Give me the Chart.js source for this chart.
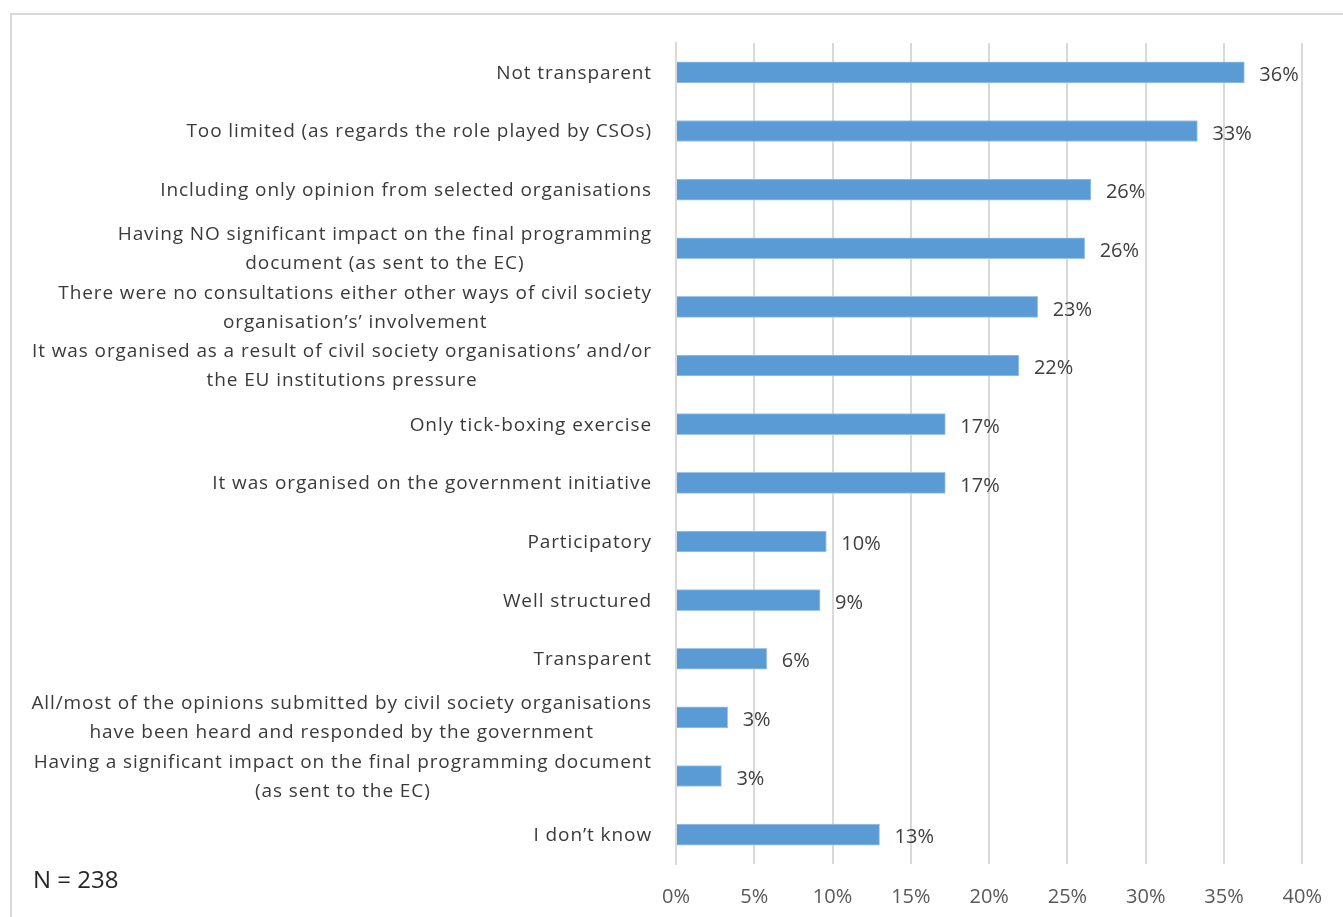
<!DOCTYPE html>
<html>
<head>
<meta charset="utf-8">
<script src="https://cdn.jsdelivr.net/npm/chart.js@4"></script>
<style>
    body { margin: 0; background: #ffffff; overflow: hidden; }
    #frame {
        position: absolute; left: 10px; top: 13px; width: 1400px; height: 1000px;
        border: 2px solid #d9d9d9; box-sizing: border-box;
    }
    #wrap { position: absolute; left: 0; top: 0; width: 1343px; height: 917px; }
    #note {
        position: absolute; left: 33px; top: 862px;
        font-family: "Open Sans", sans-serif; font-size: 24px; color: #262626;
    }
</style>
</head>
<body>
<div id="frame"></div>
<div id="wrap"><canvas id="chart"></canvas></div>
<div id="note">N = 238</div>
<script>
const categories = [
    ["Not transparent"],
    ["Too limited (as regards the role played by CSOs)"],
    ["Including only opinion from selected organisations"],
    ["Having NO significant impact on the final programming", "document (as sent to the EC)"],
    ["There were no consultations either other ways of civil society", "organisation\u2019s\u2019 involvement"],
    ["It was organised as a result of civil society organisations\u2019 and/or", "the EU institutions pressure"],
    ["Only tick-boxing exercise"],
    ["It was organised on the government initiative"],
    ["Participatory"],
    ["Well structured"],
    ["Transparent"],
    ["All/most of the opinions submitted by civil society organisations", "have been heard and responded by the government"],
    ["Having a significant impact on the final programming document", "(as sent to the EC)"],
    ["I don\u2019t know"]
];
const shares = [36.3, 33.3, 26.5, 26.1, 23.1, 21.9, 17.2, 17.2, 9.6, 9.2, 5.8, 3.3, 2.9, 13.0];
const shareLabels = ["36%", "33%", "26%", "26%", "23%", "22%", "17%", "17%", "10%", "9%", "6%", "3%", "3%", "13%"];
const xTicks = [0, 5, 10, 15, 20, 25, 30, 35, 40];

// Category labels: each block right-aligned, lines centred within the block
const categoryLabels = {
    id: 'categoryLabels',
    afterDraw(chart) {
        const ctx = chart.ctx;
        const yScale = chart.scales.y;
        const right = chart.chartArea.left - 24;
        ctx.save();
        ctx.font = '19px "Open Sans", sans-serif';
        ctx.letterSpacing = '0.9px';
        ctx.fillStyle = '#3a3a3a';
        ctx.textAlign = 'center';
        ctx.textBaseline = 'middle';
        categories.forEach((lines, i) => {
            const widest = Math.max(...lines.map(l => ctx.measureText(l).width));
            const cx = right - widest / 2;
            const cy = yScale.getPixelForValue(i) + 1;
            const lineHeight = 29;
            lines.forEach((line, j) => {
                ctx.fillText(line, cx, cy + (j - (lines.length - 1) / 2) * lineHeight);
            });
        });
        ctx.restore();
    }
};

// Value labels next to the end of each bar
const valueLabels = {
    id: 'valueLabels',
    afterDatasetsDraw(chart) {
        const ctx = chart.ctx;
        const meta = chart.getDatasetMeta(0);
        ctx.save();
        ctx.font = '20px "Open Sans", sans-serif';
        ctx.fillStyle = '#404040';
        ctx.textAlign = 'left';
        ctx.textBaseline = 'middle';
        meta.data.forEach((bar, i) => {
            ctx.fillText(shareLabels[i], bar.x + 15, bar.y + 3);
        });
        ctx.restore();
    }
};

new Chart(document.getElementById('chart'), {
    type: 'bar',
    data: {
        labels: categories.map(c => c.join(' ')),
        datasets: [{
            data: shares,
            backgroundColor: '#5b9bd5',
            borderColor: '#9dc3e6',
            borderWidth: 1,
            barThickness: 21
        }]
    },
    options: {
        indexAxis: 'y',
        responsive: true,
        maintainAspectRatio: false,
        animation: false,
        layout: { padding: { top: 43, right: 16, bottom: 0, left: 0 } },
        plugins: { legend: { display: false }, tooltip: { enabled: false } },
        scales: {
            x: {
                min: 0,
                max: 40,
                afterBuildTicks(scale) {
                    scale.ticks = xTicks.map(v => ({ value: v }));
                },
                afterFit(scale) { scale.height = 53; },
                grid: { color: '#d9d9d9', lineWidth: 2, drawTicks: false },
                border: { display: false },
                ticks: {
                    padding: 21,
                    color: '#595959',
                    font: { family: '"Open Sans", sans-serif', size: 20 },
                    callback: v => v + '%'
                }
            },
            y: {
                ticks: { display: false },
                grid: { display: false },
                border: { color: '#d9d9d9', width: 2 },
                afterFit(scale) { scale.width = 676; }
            }
        }
    },
    plugins: [categoryLabels, valueLabels]
});
</script>
</body>
</html>
